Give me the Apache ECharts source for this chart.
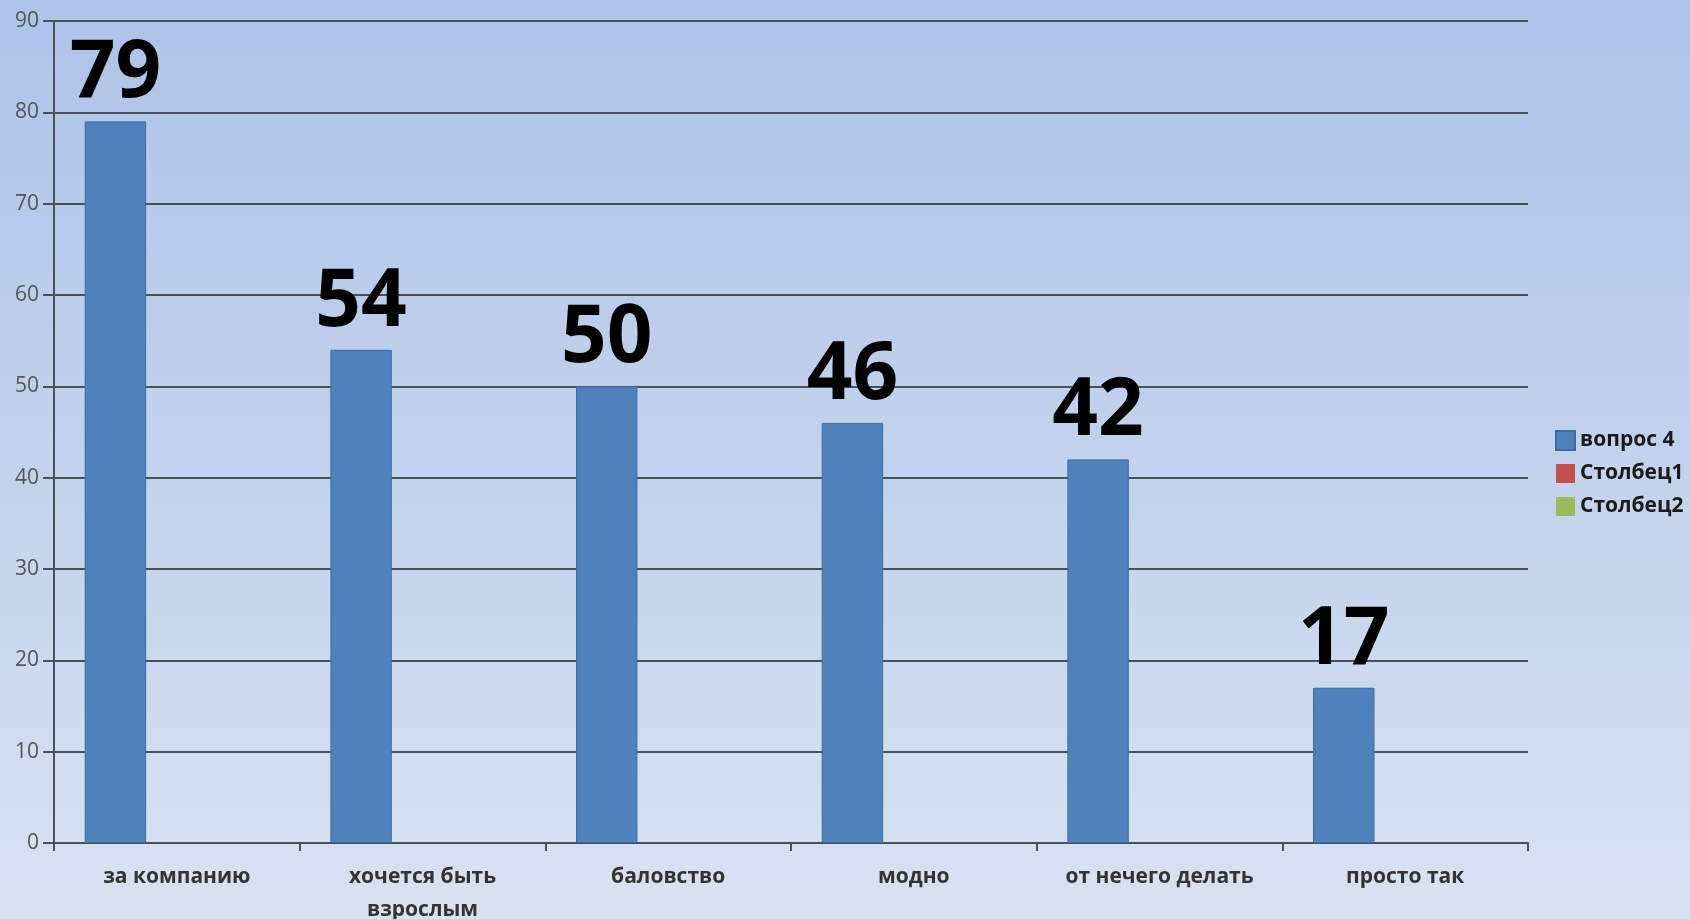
<!DOCTYPE html>
<html>
<head>
<meta charset="utf-8">
<script src="https://cdn.jsdelivr.net/npm/echarts@6/dist/echarts.min.js"></script>
<style>
html,body{margin:0;padding:0;}
#chart{width:1690px;height:919px;}
</style>
</head>
<body>
<div id="chart"></div>
<script>
const categories = ['за компанию', 'хочется быть взрослым', 'баловство', 'модно', 'от нечего делать', 'просто так'];
const seriesNames = ['вопрос 4', 'Столбец1', 'Столбец2'];
const values1 = [79, 54, 50, 46, 42, 17];
const values2 = [];
const values3 = [];
const yTicks = [0, 10, 20, 30, 40, 50, 60, 70, 80, 90];

function wrapLabel(s) {
  if (s.length <= 18) return s;
  const i = s.lastIndexOf(' ');
  return i > 0 ? s.slice(0, i) + '\n' + s.slice(i + 1) : s;
}

const chart = echarts.init(document.getElementById('chart'));
chart.setOption({
  animation: false,
  backgroundColor: new echarts.graphic.LinearGradient(0, 0, 0, 1, [
    {offset: 0, color: '#adc3e8'},
    {offset: 1, color: '#d8e2f1'}
  ]),
  grid: {left: 54, right: 162, top: 21, bottom: 76, containLabel: false, outerBoundsMode: 'none'},
  legend: {
    orient: 'vertical',
    left: 1555,
    top: 430,
    padding: 0,
    itemWidth: 19,
    itemHeight: 19,
    itemGap: 12,
    icon: 'rect',
    data: seriesNames,
    textStyle: {fontFamily: 'Open Sans', fontWeight: 'bold', fontSize: 21, color: '#1a1a1a', padding: [0, 0, 0, 0]}
  },
  xAxis: {
    type: 'category',
    data: categories,
    axisLine: {lineStyle: {color: '#4a4f58', width: 2}},
    axisTick: {show: true, length: 8, lineStyle: {color: '#4a4f58', width: 2}},
    axisLabel: {
      interval: 0,
      formatter: wrapLabel,
      fontFamily: 'Open Sans', fontWeight: 'bold', fontSize: 21, color: '#333',
      margin: 18, lineHeight: 33
    }
  },
  yAxis: {
    type: 'value',
    min: yTicks[0],
    max: yTicks[yTicks.length - 1],
    interval: 10,
    axisLine: {show: true, lineStyle: {color: '#4a4f58', width: 2}},
    axisTick: {show: true, length: 11, lineStyle: {color: '#4a4f58', width: 2}},
    axisLabel: {fontFamily: 'Open Sans', fontSize: 21, color: '#555', margin: 15},
    splitLine: {lineStyle: {color: '#4a4f58', width: 2}}
  },
  series: [
    {
      name: seriesNames[0], type: 'bar', data: values1,
      barGap: 0, barCategoryGap: '25%',
      itemStyle: {color: '#4f81bd', borderColor: '#3f6a9c', borderWidth: 1},
      label: {
        show: true, position: 'top', distance: 7,
        fontFamily: 'Open Sans', fontWeight: 'bold', fontSize: 80, color: '#000'
      }
    },
    {name: seriesNames[1], type: 'bar', data: values2, barGap: 0, barCategoryGap: '25%', itemStyle: {color: '#c0504d'}},
    {name: seriesNames[2], type: 'bar', data: values3, barGap: 0, barCategoryGap: '25%', itemStyle: {color: '#9bbb59'}}
  ]
});
</script>
</body>
</html>
